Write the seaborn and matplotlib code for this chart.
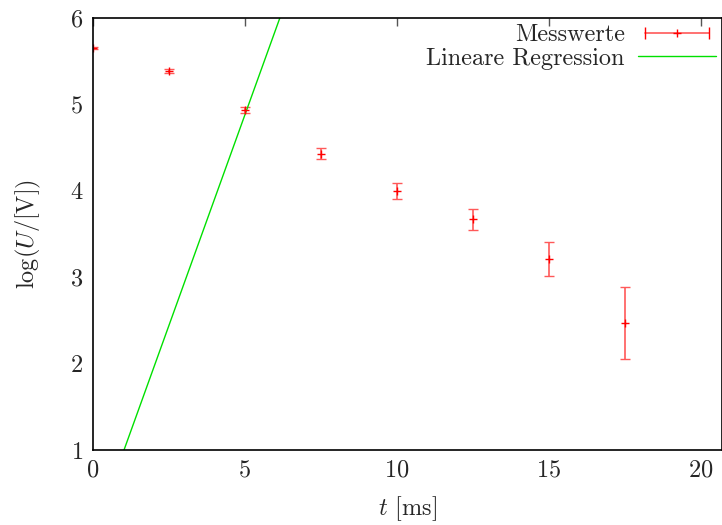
import numpy as np
import matplotlib
matplotlib.use("Agg")
import matplotlib.pyplot as plt
import seaborn as sns
from matplotlib.lines import Line2D
from matplotlib.legend_handler import HandlerLine2D

t_ms = [0.0, 2.5, 5.0, 7.5, 10.0, 12.5, 15.0, 17.5]
logU = [5.65, 5.39, 4.94, 4.43, 4.00, 3.67, 3.21, 2.47]
logU_err = [0.01, 0.025, 0.035, 0.06, 0.093, 0.124, 0.2, 0.42]

# Lineare Regression (as drawn)
slope = 0.975
intercept = 0.005
t_fit = [0.0, 21.0]

sns.set_style("white")
plt.rcParams['font.family'] = ['cmr10', 'DejaVu Serif']
plt.rcParams['mathtext.fontset'] = 'cm'
plt.rcParams['axes.formatter.use_mathtext'] = True
fs = 17.5

fig = plt.figure(figsize=(7.22, 5.25), dpi=100)
ax = fig.add_axes([93 / 722, 75 / 525, 1 - 93 / 722, 432 / 525])

ax.errorbar(t_ms, logU, yerr=logU_err, fmt='+', color='red', ecolor=(1, 0.35, 0.35),
            elinewidth=1.2, capsize=3.5, capthick=1.2, markersize=6, markeredgewidth=1)
fit_y = [slope * t + intercept for t in t_fit]
sns.lineplot(x=t_fit, y=fit_y, ax=ax, color='#00e000', linewidth=1)

ax.set_xlim(0, 20.7)
ax.set_ylim(1, 6)
ax.set_xticks([0, 5, 10, 15, 20])
ax.set_yticks([1, 2, 3, 4, 5, 6])
ax.tick_params(direction='in', length=6, width=1, top=True, right=False,
               labelsize=fs, pad=7, color='#555555')
for s in ax.spines.values():
    s.set_color('black')
    s.set_linewidth(1.2)

ax.set_xlabel(r"$t$ [ms]", fontsize=fs, labelpad=9)
ax.set_ylabel(r"$\log(U/[\mathrm{V}])$", fontsize=fs, labelpad=19)

# legend handles like gnuplot key
h_bar = Line2D([], [], color=(1, 0.35, 0.35), marker='|', markersize=8,
               markeredgecolor='red', linewidth=1.2)
h_plus = Line2D([], [], color='red', marker='+', linestyle='none', markersize=6)
h_fit = Line2D([], [], color='#00e000', linewidth=1)
ax.legend([(h_bar, h_plus), h_fit], ["Messwerte", "Lineare Regression"],
          loc='upper right', frameon=False, markerfirst=False, fontsize=fs,
          handlelength=3.2, handletextpad=0.55, borderaxespad=0.1, labelspacing=0.05,
          borderpad=0.15,
          handler_map={h_bar: HandlerLine2D(numpoints=2),
                       h_plus: HandlerLine2D(numpoints=1)})

fig.savefig("out.png", dpi=100)
